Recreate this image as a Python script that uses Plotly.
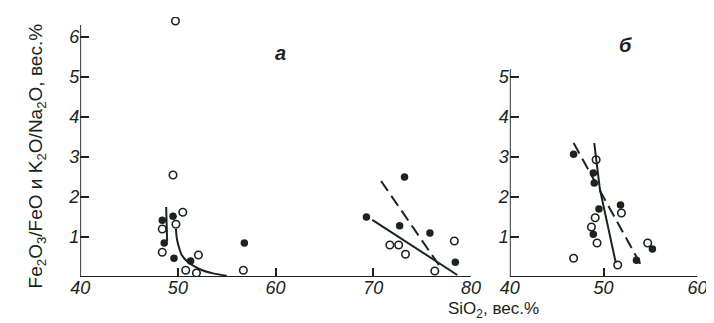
import plotly.graph_objects as go

# ---------------- data ----------------
# Panel "а"
a_open_x = [49.75, 49.5, 50.5, 49.8, 48.4, 48.4, 50.8, 52.1, 51.9, 56.7,
            71.7, 72.6, 73.3, 78.3, 76.3]
a_open_y = [6.4, 2.55, 1.62, 1.32, 1.2, 0.62, 0.17, 0.55, 0.1, 0.17,
            0.8, 0.8, 0.57, 0.9, 0.15]
a_fill_x = [48.4, 49.5, 48.6, 49.6, 51.3, 56.8,
            69.3, 73.2, 72.7, 75.8, 78.4]
a_fill_y = [1.42, 1.52, 0.85, 0.47, 0.4, 0.85,
            1.5, 2.5, 1.28, 1.1, 0.37]
a_curve_x = [49.8, 49.9, 50.1, 50.4, 50.9, 51.6, 52.5, 53.6, 55.0]
a_curve_y = [1.2, 0.95, 0.75, 0.55, 0.4, 0.28, 0.17, 0.09, 0.03]
a_steep_x = [48.8, 48.9]
a_steep_y = [1.75, 0.9]
a_line_x = [69.9, 78.6]
a_line_y = [1.43, 0.05]
a_dash_x = [70.8, 77.0]
a_dash_y = [2.4, 0.2]

# Panel "б"
b_open_x = [49.2, 51.9, 49.1, 48.7, 49.3, 46.8, 51.5, 54.7]
b_open_y = [2.93, 1.6, 1.48, 1.25, 0.85, 0.47, 0.3, 0.85]
b_fill_x = [46.8, 48.9, 49.0, 49.5, 48.9, 51.8, 53.5, 55.2]
b_fill_y = [3.07, 2.6, 2.35, 1.7, 1.07, 1.8, 0.42, 0.7]
b_line_x = [49.0, 49.6, 51.3]
b_line_y = [3.35, 2.2, 0.35]
b_dash_x = [46.8, 54.1]
b_dash_y = [3.35, 0.25]

a_xticks = [40, 50, 60, 70, 80]
b_xticks = [40, 50, 60]
a_yticks = [1, 2, 3, 4, 5, 6]
b_yticks = [1, 2, 3, 4, 5]

INK = "#1b241b"
FONT = "Liberation Sans, DejaVu Sans"

fig = go.Figure()

def open_pts(x, y, xa, ya):
    fig.add_trace(go.Scatter(x=x, y=y, mode="markers", xaxis=xa, yaxis=ya,
                             marker=dict(symbol="circle-open", size=7.5, color=INK,
                                         line=dict(width=1.6, color=INK)),
                             showlegend=False, hoverinfo="skip"))

def fill_pts(x, y, xa, ya):
    fig.add_trace(go.Scatter(x=x, y=y, mode="markers", xaxis=xa, yaxis=ya,
                             marker=dict(symbol="circle", size=7.5, color=INK),
                             showlegend=False, hoverinfo="skip"))

def line(x, y, xa, ya, dash="solid", shape="linear"):
    fig.add_trace(go.Scatter(x=x, y=y, mode="lines", xaxis=xa, yaxis=ya,
                             line=dict(color=INK, width=2, dash=dash, shape=shape),
                             showlegend=False, hoverinfo="skip"))

line(a_curve_x, a_curve_y, "x", "y", shape="spline")
line(a_steep_x, a_steep_y, "x", "y")
line(a_line_x, a_line_y, "x", "y")
line(a_dash_x, a_dash_y, "x", "y", dash="12px,6px")
open_pts(a_open_x, a_open_y, "x", "y")
fill_pts(a_fill_x, a_fill_y, "x", "y")

line(b_line_x, b_line_y, "x2", "y2")
line(b_dash_x, b_dash_y, "x2", "y2", dash="12px,6px")
open_pts(b_open_x, b_open_y, "x2", "y2")
fill_pts(b_fill_x, b_fill_y, "x2", "y2")

W, H = 714, 323
ydom = [(H - 269) / H, (H - 9) / H]

tickfont = dict(family=FONT, size=18, color=INK, style="italic")
common_x = dict(showgrid=False, zeroline=False, showline=False, ticks="inside",
                ticklen=9, tickwidth=1.5, tickcolor=INK, tickfont=tickfont,
                ticklabelstandoff=-2)
common_y = dict(showgrid=False, zeroline=False, showline=False, ticks="inside",
                ticklen=9, tickwidth=1.5, tickcolor=INK, tickfont=tickfont,
                range=[0, 6.5])

fig.update_layout(
    width=W, height=H,
    margin=dict(l=0, r=0, t=0, b=0),
    paper_bgcolor="white", plot_bgcolor="white",
    xaxis=dict(domain=[64 / W, 466 / W], range=[40, 80], anchor="y",
               tickvals=a_xticks, ticktext=[str(v) for v in a_xticks], **common_x),
    yaxis=dict(domain=ydom, anchor="x",
               tickvals=a_yticks, ticktext=[str(v) for v in a_yticks], **common_y),
    xaxis2=dict(domain=[506 / W, 699 / W], range=[40, 60], anchor="y2",
                tickvals=b_xticks, ticktext=[str(v) for v in b_xticks], **common_x),
    yaxis2=dict(domain=ydom, anchor="x2",
                tickvals=b_yticks, ticktext=[str(v) for v in b_yticks], **common_y),
    shapes=[
        dict(type="line", xref="x", yref="y", x0=40, x1=40, y0=0, y1=6.3,
             line=dict(color=INK, width=1.8)),
        dict(type="line", xref="x", yref="y", x0=40, x1=80, y0=0, y1=0,
             line=dict(color=INK, width=1.8)),
        dict(type="line", xref="x2", yref="y2", x0=40, x1=40, y0=0, y1=5.2,
             line=dict(color=INK, width=1.8)),
        dict(type="line", xref="x2", yref="y2", x0=40, x1=60, y0=0, y1=0,
             line=dict(color=INK, width=1.8)),
    ],
    annotations=[
        dict(text="Fe<sub>2</sub>O<sub>3</sub>/FeO и K<sub>2</sub>O/Na<sub>2</sub>O, вес.%",
             xref="paper", yref="paper", x=20 / W, y=(H - 148) / H,
             textangle=-90, showarrow=False, xanchor="center", yanchor="middle",
             font=dict(family=FONT, size=19, color=INK)),
        dict(text="SiO<sub>2</sub>, вес.%", xref="paper", yref="paper",
             x=489 / W, y=(H - 302) / H, showarrow=False,
             xanchor="center", yanchor="middle",
             font=dict(family=FONT, size=17, color=INK)),
        dict(text="<b>а</b>", xref="paper", yref="paper", x=270 / W, y=(H - 45) / H,
             showarrow=False, xanchor="center", yanchor="middle",
             font=dict(family=FONT, size=20, color=INK, style="italic")),
        dict(text="<b>б</b>", xref="paper", yref="paper", x=625 / W, y=(H - 37) / H,
             showarrow=False, xanchor="center", yanchor="middle",
             font=dict(family=FONT, size=20, color=INK, style="italic")),
    ],
)

fig.write_html("out.html")
